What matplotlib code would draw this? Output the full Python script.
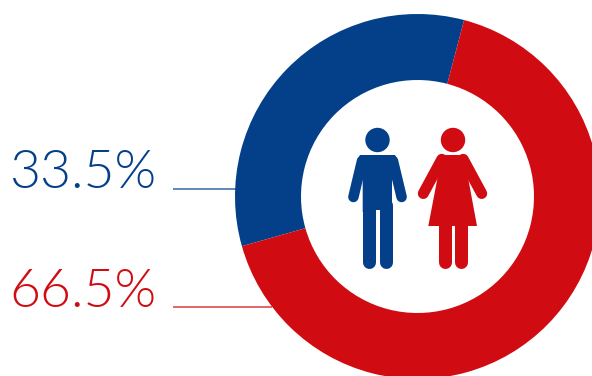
import matplotlib
matplotlib.use('Agg')
import matplotlib.pyplot as plt
from matplotlib.patches import Circle, Polygon

labels = ['33.5%', '66.5%']
shares = [33.5, 66.5]
colors = ['#04408A', '#D00C12']
label_y = [173.5, 292.5]
leader_y = [188.8, 306.7]
leader_end = [236, 272]

W, H = 592, 376
fig = plt.figure(figsize=(W / 100, H / 100), dpi=100)
ax = fig.add_axes([0, 0, 1, 1])

ax.pie(shares, colors=colors, startangle=75.2, counterclock=True,
       center=(417.5, H - 196.5), radius=182.5,
       wedgeprops={'width': 66, 'linewidth': 0})
ax.set_xlim(0, W)
ax.set_ylim(0, H)
ax.set_aspect('equal')
ax.axis('off')


def py(y):
    return H - y


# percentages and their leader lines
for txt, c, ty, ly, end in zip(labels, colors, label_y, leader_y, leader_end):
    ax.text(9.5, py(ty), txt, color=c, fontsize=38.5, family='Lato',
            fontweight=300, ha='left', va='center')
    ax.plot([172.5, end], [py(ly), py(ly)], color=c, lw=1.1, alpha=0.8,
            solid_capstyle='butt', zorder=0)


def limb(x0, y0, x1, y1, c, w):
    ax.plot([x0, x1], [py(y0), py(y1)], color=c, lw=w * 0.72,
            solid_capstyle='round', zorder=3)


# man
blue = colors[0]
ax.add_patch(Circle((377.5, py(140)), 12.2, color=blue, lw=0, zorder=3))
ax.add_patch(Polygon([(x, py(y)) for x, y in [
    (360, 155), (395, 155), (398, 160), (392, 181), (392, 212),
    (379, 210), (375.7, 210), (362.7, 212), (362.7, 181), (357, 160)]],
    color=blue, lw=0, zorder=3))
limb(362, 161, 353.4, 197, blue, 10.5)
limb(393, 161, 401.6, 197, blue, 10.5)
limb(369.2, 205, 369.2, 262, blue, 13)
limb(385.5, 205, 385.5, 262, blue, 13)

# woman
red = colors[1]
ax.add_patch(Circle((453, py(140)), 12.2, color=red, lw=0, zorder=3))
ax.add_patch(Polygon([(x, py(y)) for x, y in [
    (440, 155), (465, 155), (468.3, 179), (477, 226), (428.3, 226),
    (437.3, 179)]],
    color=red, lw=0, zorder=3))
limb(441.8, 159.3, 423.3, 193.5, red, 11)
limb(463.2, 159.3, 481.7, 193.5, red, 11)
limb(444.8, 224, 444.8, 262, red, 13)
limb(461, 224, 461, 262, red, 13)

fig.savefig('out.png', dpi=100)
